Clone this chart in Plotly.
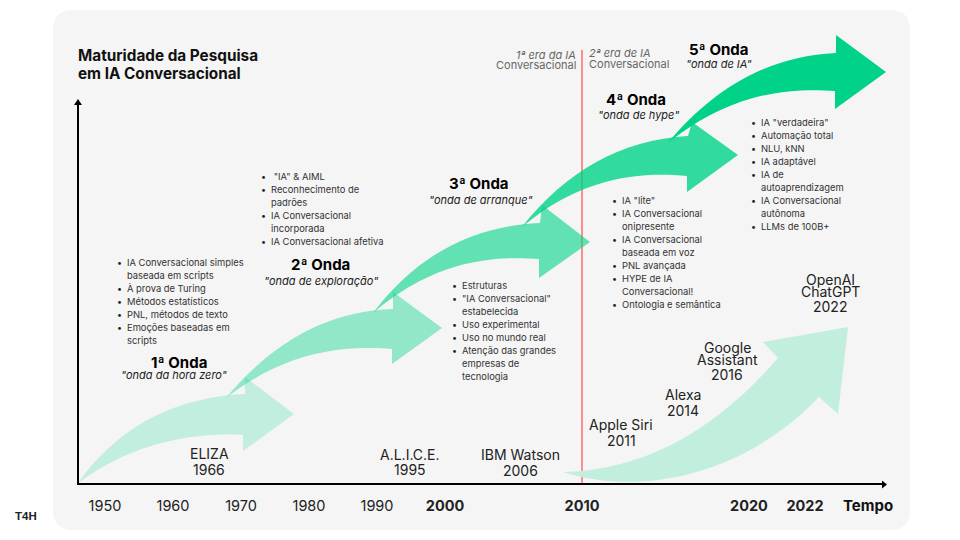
import plotly.graph_objects as go

FONT = "Inter"
# ---- timeline ----
tick_years = ["1950", "1960", "1970", "1980", "1990", "<b>2000</b>", "<b>2010</b>", "<b>2020</b>", "<b>2022</b>"]
tick_pos = [105, 173, 241, 309, 377, 445, 582, 749, 805]
tick_y = [507] * 9

# ---- wave arrows: tail, ctrl, ctrl, shaft top, head top, tip, head bottom, shaft bottom, ctrl, ctrl
wave1 = [(78,483),(120,424),(178,397),(245,394),(245,377),(294,414),(243,451),(243,435),(205,433),(141,437)]
wave2 = [(226,398),(270,345),(325,311),(393,309),(393,292),(442,328),(392,364),(392,349),(350,346),(290,348)]
wave3 = [(373,313),(417,255),(472,226),(540,223),(542,205),(590,242),(539,278),(539,259),(497,256),(437,258)]
wave4 = [(522,227),(566,171),(621,140),(688,136),(692,122),(738,155),(687,192),(687,176),(645,172),(585,174)]
wave5 = [(668,143),(712,90),(767,56),(836,53),(836,35),(886,72),(835,109),(835,91),(794,88),(734,90)]
wave_opacity = [0.21, 0.4, 0.6, 0.8, 1.0]
# ---- product arrow: tail, ctrl, ctrl, neck top, barb, tip, barb, neck bottom, ctrl, ctrl
product_arrow = [(563,472),(650,470),(720,425),(778,358),(763,342),(848,327),(838,414),(819,397),(745,475),(640,497)]

# ---- text ----
title_lines = [("Maturidade da Pesquisa", 78, 56), ("em IA Conversacional", 78, 74)]
wave_heads = [("1ª Onda", 179, 363), ("2ª Onda", 320, 265), ("3ª Onda", 479, 184), ("4ª Onda", 636, 100), ("5ª Onda", 718, 50)]
wave_subs = [('"onda da hora zero"', 174, 376), ('"onda de exploração"', 321, 282), ('"onda de arranque"', 481, 201),
             ('"onda de hype"', 638, 116), ('"onda de IA"', 719, 65)]
# (text, starts a bullet)
block1 = [("IA Conversacional simples",1),("baseada em scripts",0),("À prova de Turing",1),("Métodos estatísticos",1),
          ("PNL, métodos de texto",1),("Emoções baseadas em",1),("scripts",0)]
block2 = [(' "IA" & AIML',1),("Reconhecimento de",1),("padrões",0),("IA Conversacional",1),("incorporada",0),("IA Conversacional afetiva",1)]
block3 = [("Estruturas",1),('"IA Conversacional"',1),("estabelecida",0),("Uso experimental",1),("Uso no mundo real",1),
          ("Atenção das grandes",1),("empresas de",0),("tecnologia",0)]
block4 = [('IA "lite"',1),("IA Conversacional",1),("onipresente",0),("IA Conversacional",1),("baseada em voz",0),("PNL avançada",1),
          ("HYPE de IA",1),("Conversacional!",0),("Ontologia e semântica",1)]
block5 = [('IA "verdadeira"',1),("Automação total",1),("NLU, kNN",1),("IA adaptável",1),("IA de",1),("autoaprendizagem",0),
          ("IA Conversacional",1),("autônoma",0),("LLMs de 100B+",1)]
blocks = [(block1,127,263),(block2,271,177),(block3,462,286),(block4,622,201),(block5,761,123)]
products = [("ELIZA",209,454),("1966",209,470),("A.L.I.C.E.",410,455),("1995",410,470),("IBM Watson",520,455),("2006",520,471),
            ("Apple Siri",621,425),("2011",621,441),("Alexa",683,395),("2014",683,411),("Google",727,348),("Assistant",727,360),("2016",727,375),
            ("OpenAI",830,280),("ChatGPT",830,292),("2022",830,307)]

def P(p): return f"{p[0]} {p[1]}"
def arrow_path(a):
    return (f"M {P(a[0])} C {P(a[1])} {P(a[2])} {P(a[3])} L {P(a[4])} L {P(a[5])} L {P(a[6])} L {P(a[7])} "
            f"C {P(a[8])} {P(a[9])} {P(a[0])} Z")

shapes = []
# panel
L,T,R,B,r = 53,10,910,530,20
shapes.append(dict(type="path", line_width=0, fillcolor="#F5F5F5", layer="below",
    path=f"M {L+r} {T} L {R-r} {T} Q {R} {T} {R} {T+r} L {R} {B-r} Q {R} {B} {R-r} {B} L {L+r} {B} Q {L} {B} {L} {B-r} L {L} {T+r} Q {L} {T} {L+r} {T} Z"))
# era line
shapes.append(dict(type="line", x0=582, x1=582, y0=50, y1=484, layer="below", line=dict(color="#FF6B6B", width=1.5)))
# product arrow + waves
shapes.append(dict(type="path", path=arrow_path(product_arrow), fillcolor="#C2EEDD", line_width=0, layer="below"))
for w, o in zip([wave1, wave2, wave3, wave4, wave5], wave_opacity):
    shapes.append(dict(type="path", path=arrow_path(w), fillcolor="#00D387", opacity=o, line_width=0, layer="below"))
# axes
shapes.append(dict(type="line", x0=77, x1=883, y0=484, y1=484, layer="below", line=dict(color="#000", width=2)))
shapes.append(dict(type="line", x0=78, x1=78, y0=485, y1=104, layer="below", line=dict(color="#000", width=2)))
shapes.append(dict(type="path", path="M 882 480.5 L 887 484.5 L 882 488.5 Z", fillcolor="#000", line_width=0, layer="below"))
shapes.append(dict(type="path", path="M 74 105 L 78 99 L 82 105 Z", fillcolor="#000", line_width=0, layer="below"))

ann = []
def T_(text, x, y, size, color="#111", anchor="center", family=FONT):
    ann.append(dict(text=text, x=x, y=y-1, xref="x", yref="y", showarrow=False, xanchor=anchor, yanchor="middle",
                    font=dict(family=family, size=size, color=color), borderpad=0, borderwidth=0))

for t,x,y in title_lines: T_(f"<b>{t}</b>", x, y, 15.3, "#111", "left")
for t,x,y in wave_heads: T_(f"<b>{t}</b>", x, y, 15, "#000")
for t,x,y in wave_subs: T_(f"<i>{t}</i>", x, y, 11, "#222")
for lines,x,y0 in blocks:
    for i,(t,b) in enumerate(lines):
        y = y0 + 13*i
        T_(t, x, y, 9.4, "#333", "left")
        if b: T_("•", x-8, y, 9, "#222")
for t,x,y in products: T_(t, x, y, 14, "#222")
T_("<i>1ª era da IA</i>", 576, 56, 11, "#666", "right")
T_("Conversacional", 576, 66, 11, "#666", "right")
T_("<i>2ª era de IA</i>", 589, 54, 11, "#666", "left")
T_("Conversacional", 589, 65, 11, "#666", "left")
T_("<b>Tempo</b>", 868, 506, 15, "#111")
T_("<b>T4H</b>", 26, 517, 11.5, "#222", family="Liberation Sans")

fig = go.Figure()
fig.add_trace(go.Scatter(x=tick_pos, y=tick_y, mode="text", text=tick_years, textposition="middle center",
                         textfont=dict(family=FONT, size=14.5, color="#222"), hoverinfo="skip", cliponaxis=False))
fig.update_layout(
    width=960, height=540, margin=dict(l=0,r=0,t=0,b=0), paper_bgcolor="white", plot_bgcolor="rgba(0,0,0,0)",
    showlegend=False, shapes=shapes, annotations=ann,
    xaxis=dict(range=[0,960], visible=False, fixedrange=True),
    yaxis=dict(range=[540,0], visible=False, fixedrange=True),
)
fig.write_html("out.html", config=dict(displayModeBar=False),
               post_script="document.body.style.margin='0';document.body.style.overflow='hidden';")
